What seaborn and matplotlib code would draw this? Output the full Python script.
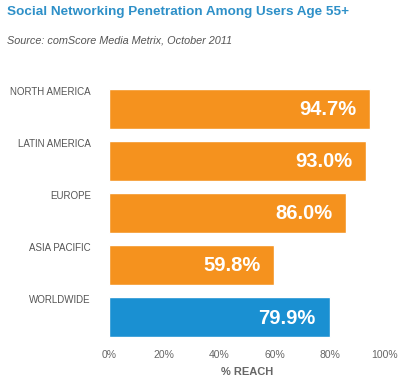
import matplotlib
matplotlib.use("Agg")
import matplotlib.pyplot as plt
import matplotlib.transforms as mtransforms
import seaborn as sns
import pandas as pd

regions = ["NORTH AMERICA", "LATIN AMERICA", "EUROPE", "ASIA PACIFIC", "WORLDWIDE"]
reach = [94.7, 93.0, 86.0, 59.8, 79.9]
value_labels = ["94.7%", "93.0%", "86.0%", "59.8%", "79.9%"]
xticks = [0, 20, 40, 60, 80, 100]
xtick_labels = ["0%", "20%", "40%", "60%", "80%", "100%"]

ORANGE = "#F5921E"
BLUE = "#1A90D2"
colors = [ORANGE, ORANGE, ORANGE, ORANGE, BLUE]

sns.set_theme(style="white")
plt.rcParams['font.family'] = ['Liberation Sans', 'DejaVu Sans']

df = pd.DataFrame({"region": regions, "reach": reach})

fig = plt.figure(figsize=(4.0, 3.77), dpi=100)
ax = fig.add_axes([0.2725, 0.090, 0.69, 0.691])

sns.barplot(data=df, x="reach", y="region", hue="region", palette=colors,
            legend=False, width=0.77, ax=ax, saturation=1, orient="h")

ax.set_xlim(0, 100)
ax.set_ylim(4.5, -0.5)
sns.despine(ax=ax, left=True, bottom=True)
ax.set_yticks([])
ax.set_ylabel("")
ax.set_xticks(xticks)
ax.set_xticklabels(xtick_labels, fontsize=7.5, color="#666666")
ax.tick_params(axis="x", length=0, pad=5)
ax.set_xlabel("% REACH", fontsize=8, fontweight="bold", color="#666666", labelpad=5)

trans = mtransforms.blended_transform_factory(ax.transAxes, ax.transData)
for i, (name, val, lab) in enumerate(zip(regions, reach, value_labels)):
    ax.text(-0.065, i - 0.42, name, transform=trans, ha="right", va="top",
            fontsize=7, color="#555555")
    ax.text(val - 5.0, i + 0.02, lab, ha="right", va="center",
            fontsize=14.5, fontweight="bold", color="white")

fig.text(0.018, 0.967, "Social Networking Penetration Among Users Age 55+",
         fontsize=9.7, fontweight="bold", color="#2E90C8", ha="left", va="center")
fig.text(0.018, 0.893, "Source: comScore Media Metrix, October 2011",
         fontsize=7.8, fontstyle="italic", color="#555555", ha="left", va="center")

fig.savefig("out.png", dpi=100)
